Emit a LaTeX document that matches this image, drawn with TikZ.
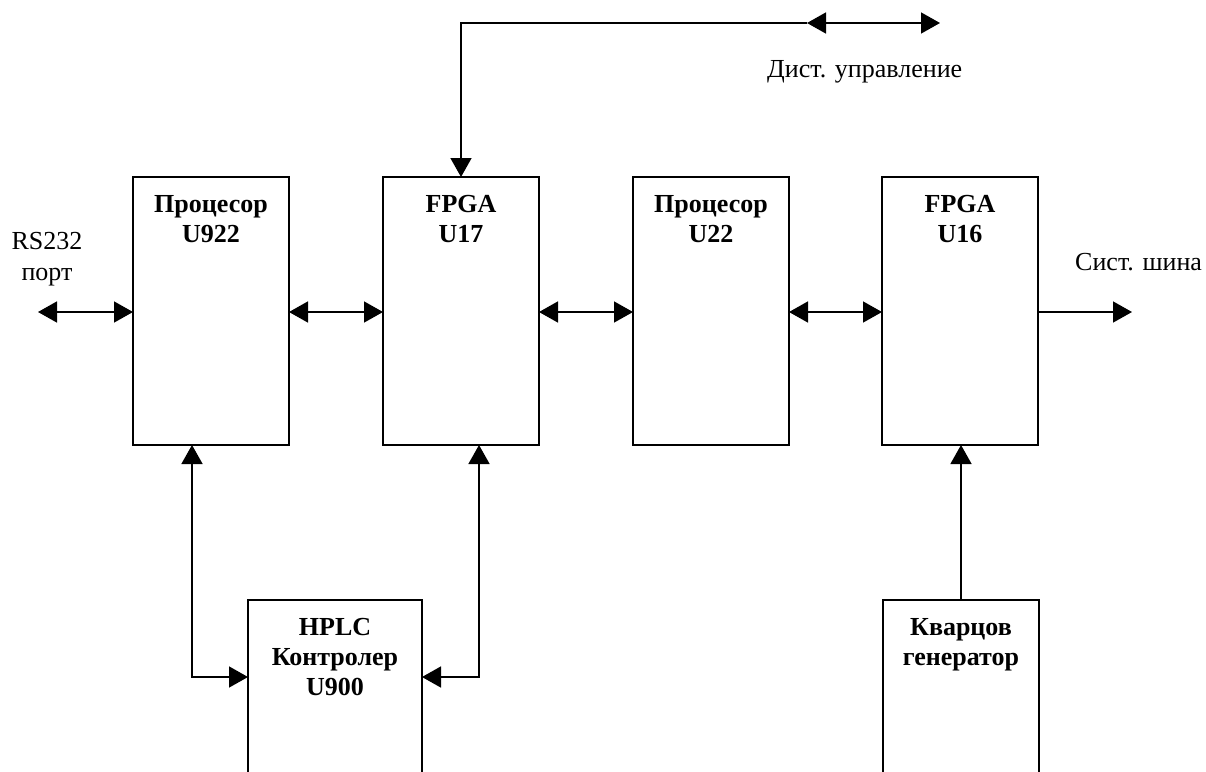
\documentclass[tikz,border=0pt]{standalone}
\usepackage{fontspec}
\setmainfont{Liberation Serif}
\usetikzlibrary{arrows.meta}
\begin{document}
\begin{tikzpicture}[x=1pt,y=-1pt,
  blk/.style={draw,line width=1.5pt,minimum width=156pt,minimum height=268pt,anchor=north west,inner sep=0pt,outer sep=0pt},
  lbl/.style={font=\fontsize{26}{30}\selectfont\bfseries,align=center,anchor=north,inner sep=0pt},
  txt/.style={font=\fontsize{26}{31}\selectfont,align=center,inner sep=0pt},
  tip/.tip={Triangle[length=19pt,width=21pt]},
  con/.style={line width=1.5pt,-tip},
  bi/.style={line width=1.5pt,tip-tip}]
\useasboundingbox (0,0) rectangle (1206,771);
\clip (0,0) rectangle (1206,771);
% blocks
\node[blk] (p1) at (133,177) {};
\node[blk] (f1) at (383,177) {};
\node[blk] (p2) at (633,177) {};
\node[blk] (f2) at (882,177) {};
\node[blk,minimum width=174pt,minimum height=220pt] (h) at (248,600) {};
\node[blk,minimum height=220pt] (q) at (883,600) {};
% block labels
\node[lbl] (tp1) at ([yshift=-18pt]p1.north) {Процесор\\U922};
\node[lbl] (tf1) at ([yshift=-18pt]f1.north) {FPGA\\U17};
\node[lbl] (tp2) at ([yshift=-18pt]p2.north) {Процесор\\U22};
\node[lbl] (tf2) at ([yshift=-18pt]f2.north) {FPGA\\U16};
\node[lbl] (th) at ([yshift=-18pt]h.north) {HPLC\\Контролер\\U900};
\node[lbl] (tq) at ([yshift=-18pt]q.north) {Кварцов\\генератор};
% free labels
\node[txt,anchor=north] (rs) at (47,232) {RS232\\порт};
\node[txt,anchor=base west] (bus) at (1075,270) {Сист. шина};
\node[txt,anchor=base west] (rc) at (767,77) {Дист. управление};
% coordinates
\coordinate (rsL) at (38,312);
\coordinate (busR) at (1132,312);
\coordinate (dL) at (807,23);
\coordinate (dR) at (940,23);
\coordinate (a1) at (192,677);
\coordinate (a2) at (479,677);
% connectors
\draw[bi] (rsL) -- (rsL -| p1.west);
\draw[bi] (p1.east |- rsL) -- (f1.west |- rsL);
\draw[bi] (f1.east |- rsL) -- (p2.west |- rsL);
\draw[bi] (p2.east |- rsL) -- (f2.west |- rsL);
\draw[con] (f2.east |- busR) -- (busR);
\draw[con] (dL) -| (f1.north);
\draw[bi] (dL) -- (dR);
\draw[bi] (a1 |- p1.south) -- (a1) -- (a1 -| h.west);
\draw[bi] (a2 |- f1.south) -- (a2) -- (a2 -| h.east);
\draw[con] (q.north) -- (q.north |- f2.south);
\end{tikzpicture}
\end{document}
